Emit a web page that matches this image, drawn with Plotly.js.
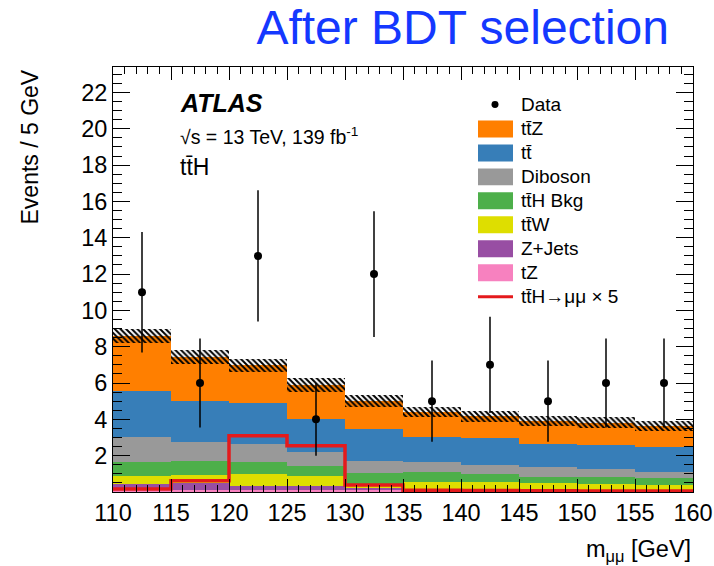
<!DOCTYPE html>
<html>
<head>
<meta charset="utf-8">
<script src="https://cdn.plot.ly/plotly-3.0.1.min.js"></script>
<style>html,body{margin:0;padding:0;background:#fff;}#chart{width:714px;height:566px;}</style>
</head>
<body>
<div id="chart"></div>
<script>
// ---- data ----
const binEdges   = [110,115,120,125,130,135,140,145,150,155,160];
const binCenters = [112.5,117.5,122.5,127.5,132.5,137.5,142.5,147.5,152.5,157.5];
// stacked backgrounds, bottom -> top
const tZ      = [0.10,0.10,0.12,0.12,0.10,0.06,0.06,0.05,0.05,0.05];
const zJets   = [0.32,0.42,0.21,0.21,0.12,0.04,0.04,0.04,0.03,0.03];
const ttW     = [0.48,0.42,0.68,0.55,0.23,0.47,0.43,0.39,0.36,0.32];
const ttHBkg  = [0.75,0.75,0.64,0.57,0.58,0.54,0.46,0.36,0.37,0.37];
const diboson = [1.37,1.05,1.01,0.74,0.68,0.54,0.51,0.52,0.44,0.33];
const ttbar   = [2.56,2.29,2.24,1.83,1.74,1.36,1.48,1.28,1.32,1.36];
const ttZ     = [2.99,2.41,2.07,1.86,1.56,1.38,1.19,1.26,1.25,1.19];
const bkgUnc  = [0.39,0.39,0.36,0.38,0.34,0.28,0.29,0.26,0.29,0.28];
const signalX5 = [0.17,0.62,3.10,2.55,0.39,0.10,0.08,0.07,0.06,0.06];
const dataY    = [11,6,13,4,12,5,7,5,6,6];
const dataErr  = [3.32,2.45,3.61,2.00,3.46,2.24,2.65,2.24,2.45,2.45];
const yTicks   = [2,4,6,8,10,12,14,16,18,20,22];
const legendLabels = ["Data","tt\u0304Z","tt\u0304","Diboson","tt\u0304H Bkg","tt\u0304W","Z+Jets","tZ","tt\u0304H\u2192\u03bc\u03bc \u00d7 5"];

const FONT = "Liberation Sans, Arial, Helvetica, sans-serif";
const comps = [
  {v: tZ,      c: "#f781bf"},
  {v: zJets,   c: "#984ea3"},
  {v: ttW,     c: "#dede00"},
  {v: ttHBkg,  c: "#4daf4a"},
  {v: diboson, c: "#999999"},
  {v: ttbar,   c: "#377eb8"},
  {v: ttZ,     c: "#ff7f00"}
];

const traces = [];
let cum = binCenters.map(() => 0);
comps.forEach(cp => {
  traces.push({
    type: "bar", x: binCenters, y: cp.v, base: cum.slice(), width: 5,
    marker: {color: cp.c, line: {width: 0}}, showlegend: false, hoverinfo: "skip"
  });
  cum = cum.map((b, i) => b + cp.v[i]);
});
const total = cum;
traces.push({
  type: "bar", x: binCenters, y: bkgUnc.map(u => 2*u), base: total.map((t,i) => t - bkgUnc[i]), width: 5,
  marker: {color: "rgba(0,0,0,0)", line: {width: 0},
           pattern: {shape: "\\", fgcolor: "#000", bgcolor: "rgba(0,0,0,0)", size: 4, solidity: 0.5, fillmode: "replace"}},
  showlegend: false, hoverinfo: "skip"
});
traces.push({
  type: "scatter", mode: "lines", x: binEdges, y: signalX5.concat([signalX5[signalX5.length-1]]),
  line: {shape: "hv", color: "#e41a1c", width: 3.5}, showlegend: false, hoverinfo: "skip"
});
traces.push({
  type: "scatter", mode: "markers", x: binCenters, y: dataY,
  error_y: {type: "data", array: dataErr, visible: true, color: "#000", thickness: 1.5, width: 0},
  marker: {color: "#000", size: 8}, showlegend: false
});

// ---- plot-area pixel helpers for legend/labels ----
const L = 113, R = 693, T = 67, B = 492.5;
const px = x => (x - L) / (R - L);
const py = y => (B - y) / (B - T);

const legendColors = [null, "#ff7f00", "#377eb8", "#999999", "#4daf4a", "#dede00", "#984ea3", "#f781bf", "#e41a1c"];
const rowY = [104.5,129,153,177,201,225,249,273,297];
const shapes = [];
const annotations = [];
legendColors.forEach((c, i) => {
  const yc = rowY[i];
  if (i === 0) {
    shapes.push({type: "circle", xref: "paper", yref: "paper", x0: px(491.5), x1: px(498.5), y0: py(yc+3.5), y1: py(yc-3.5),
                 fillcolor: "#000", line: {width: 0}});
  } else if (i === legendColors.length - 1) {
    shapes.push({type: "line", xref: "paper", yref: "paper", x0: px(478), x1: px(513), y0: py(yc), y1: py(yc),
                 line: {color: c, width: 3}});
  } else {
    shapes.push({type: "rect", xref: "paper", yref: "paper", x0: px(478), x1: px(513), y0: py(yc+8.5), y1: py(yc-8.5),
                 fillcolor: c, line: {width: 0}});
  }
  annotations.push({xref: "paper", yref: "paper", x: px(519), y: py(yc), xanchor: "left", yanchor: "middle",
                    text: legendLabels[i], showarrow: false, font: {family: FONT, size: 19, color: "#000"}});
});

annotations.push({xref: "paper", yref: "paper", x: px(178), y: py(103.5), xanchor: "left", yanchor: "middle",
  text: "<b><i>ATLAS</i></b>", showarrow: false, font: {family: FONT, size: 25, color: "#000"}});
annotations.push({xref: "paper", yref: "paper", x: px(178), y: py(136), xanchor: "left", yanchor: "middle",
  text: "\u221As = 13 TeV, 139 fb<sup>-1</sup>", showarrow: false, font: {family: FONT, size: 19.5, color: "#000"}});
annotations.push({xref: "paper", yref: "paper", x: px(178), y: py(167), xanchor: "left", yanchor: "middle",
  text: "tt\u0304H", showarrow: false, font: {family: FONT, size: 23, color: "#000"}});
annotations.push({xref: "paper", yref: "paper", x: 1, y: py(551), xanchor: "right", yanchor: "middle",
  text: "m<sub>\u03bc\u03bc</sub> [GeV]", showarrow: false, font: {family: FONT, size: 23.5, color: "#000"}});
annotations.push({xref: "paper", yref: "paper", x: px(30), y: py(68), xanchor: "center", yanchor: "top", textangle: -90,
  text: "Events / 5 GeV", showarrow: false, font: {family: FONT, size: 23, color: "#000"}});

const layout = {
  width: 714, height: 566,
  margin: {l: 113, r: 21, t: 67, b: 73.5, pad: 0},
  paper_bgcolor: "#fff", plot_bgcolor: "#fff",
  barmode: "overlay", bargap: 0, showlegend: false,
  title: {text: "After BDT selection", font: {family: FONT, size: 48, color: "#1438ff"},
          xref: "container", yref: "container", x: 669/714, xanchor: "right", y: 1 - 27/566, yanchor: "middle"},
  xaxis: {range: [110, 160], tickmode: "linear", tick0: 110, dtick: 5,
          ticks: "inside", ticklen: 13, tickwidth: 1, tickcolor: "#000",
          minor: {tickmode: "linear", tick0: 110, dtick: 1, ticks: "inside", ticklen: 7, tickcolor: "#000", tickwidth: 1, showgrid: false},
          showline: true, linecolor: "#000", linewidth: 1, mirror: "ticks",
          showgrid: false, zeroline: false, tickfont: {family: FONT, size: 23.5, color: "#000"}},
  yaxis: {range: [0, 23.4], tickmode: "array", tickvals: yTicks,
          ticks: "inside", ticklen: 17, tickwidth: 1, tickcolor: "#000",
          minor: {tickmode: "linear", tick0: 0, dtick: 0.5, ticks: "inside", ticklen: 9, tickcolor: "#000", tickwidth: 1, showgrid: false},
          showline: true, linecolor: "#000", linewidth: 1, mirror: "ticks",
          showgrid: false, zeroline: false, tickfont: {family: FONT, size: 23.5, color: "#000"}},
  shapes: shapes,
  annotations: annotations
};

Plotly.newPlot("chart", traces, layout, {displayModeBar: false, staticPlot: true});
</script>
</body>
</html>
